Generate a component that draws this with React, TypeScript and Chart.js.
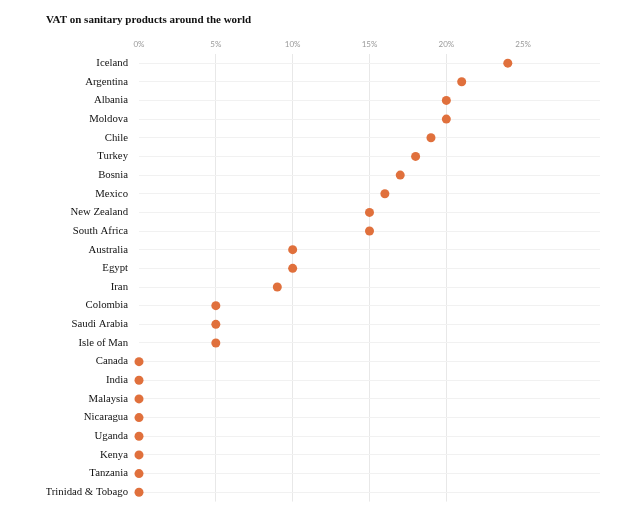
import React, { useEffect, useRef } from "react";
import { Chart, registerables } from "chart.js";

Chart.register(...registerables);

const countries = [
  "Iceland", "Argentina", "Albania", "Moldova", "Chile", "Turkey", "Bosnia", "Mexico",
  "New Zealand", "South Africa", "Australia", "Egypt", "Iran", "Colombia", "Saudi Arabia",
  "Isle of Man", "Canada", "India", "Malaysia", "Nicaragua", "Uganda", "Kenya", "Tanzania",
  "Trinidad & Tobago",
];
const vatRates = [24, 21, 20, 20, 19, 18, 17, 16, 15, 15, 10, 10, 9, 5, 5, 5, 0, 0, 0, 0, 0, 0, 0, 0];
const xTickValues = [0, 5, 10, 15, 20, 25];
const titleText = "VAT on sanitary products around the world";

export default function App() {
  const ref = useRef<HTMLCanvasElement | null>(null);
  useEffect(() => {
    if (!ref.current) return;
    const chart = new Chart(ref.current, {
      type: "scatter",
      data: {
        labels: countries,
        datasets: [
          {
            data: countries.map((c, i) => ({ x: vatRates[i], y: c })) as any,
            backgroundColor: "#e0703c",
            borderColor: "#e0703c",
            pointRadius: 4.5,
            pointHoverRadius: 4.5,
            borderWidth: 0,
            clip: false as any,
          },
        ],
      },
      options: {
        animation: false,
        responsive: true,
        maintainAspectRatio: false,
        layout: { padding: { left: 38, right: 24, top: 0, bottom: 0 } },
        plugins: {
          legend: { display: false },
          tooltip: { enabled: false },
          title: {
            display: true,
            text: titleText,
            align: "start",
            color: "#111",
            font: { family: "'Liberation Serif', serif", size: 11, weight: "bold" },
            padding: { top: 6, bottom: 7 },
          },
        },
        scales: {
          x: {
            type: "linear",
            position: "top",
            min: 0,
            max: 30,
            afterBuildTicks: (s: any) => {
              s.ticks = [...xTickValues, 30].map((v) => ({ value: v }));
            },
            ticks: {
              color: "#999",
              font: { family: "Lato, sans-serif", size: 8 },
              padding: 5,
              callback: (v: any) => (xTickValues.includes(Number(v)) ? v + "%" : ""),
            },
            grid: {
              drawTicks: false,
              color: (ctx: any) =>
                ctx.tick && [5, 10, 15, 20].includes(ctx.tick.value) ? "#e8e8e8" : "rgba(0,0,0,0)",
            },
            border: { display: false },
          },
          y: {
            type: "category",
            labels: countries,
            offset: true,
            afterFit: (s: any) => {
              s.width = 93;
            },
            ticks: {
              color: "#111",
              font: { family: "'Liberation Serif', serif", size: 10.75 },
              padding: 11,
              autoSkip: false,
            },
            grid: { drawTicks: false, offset: false, color: "#f1f1f1" },
            border: { display: false },
          },
        },
      },
    });
    return () => chart.destroy();
  }, []);
  return (
    <div style={{ width: 616, height: 511, position: "relative" }}>
      <canvas ref={ref} />
    </div>
  );
}
